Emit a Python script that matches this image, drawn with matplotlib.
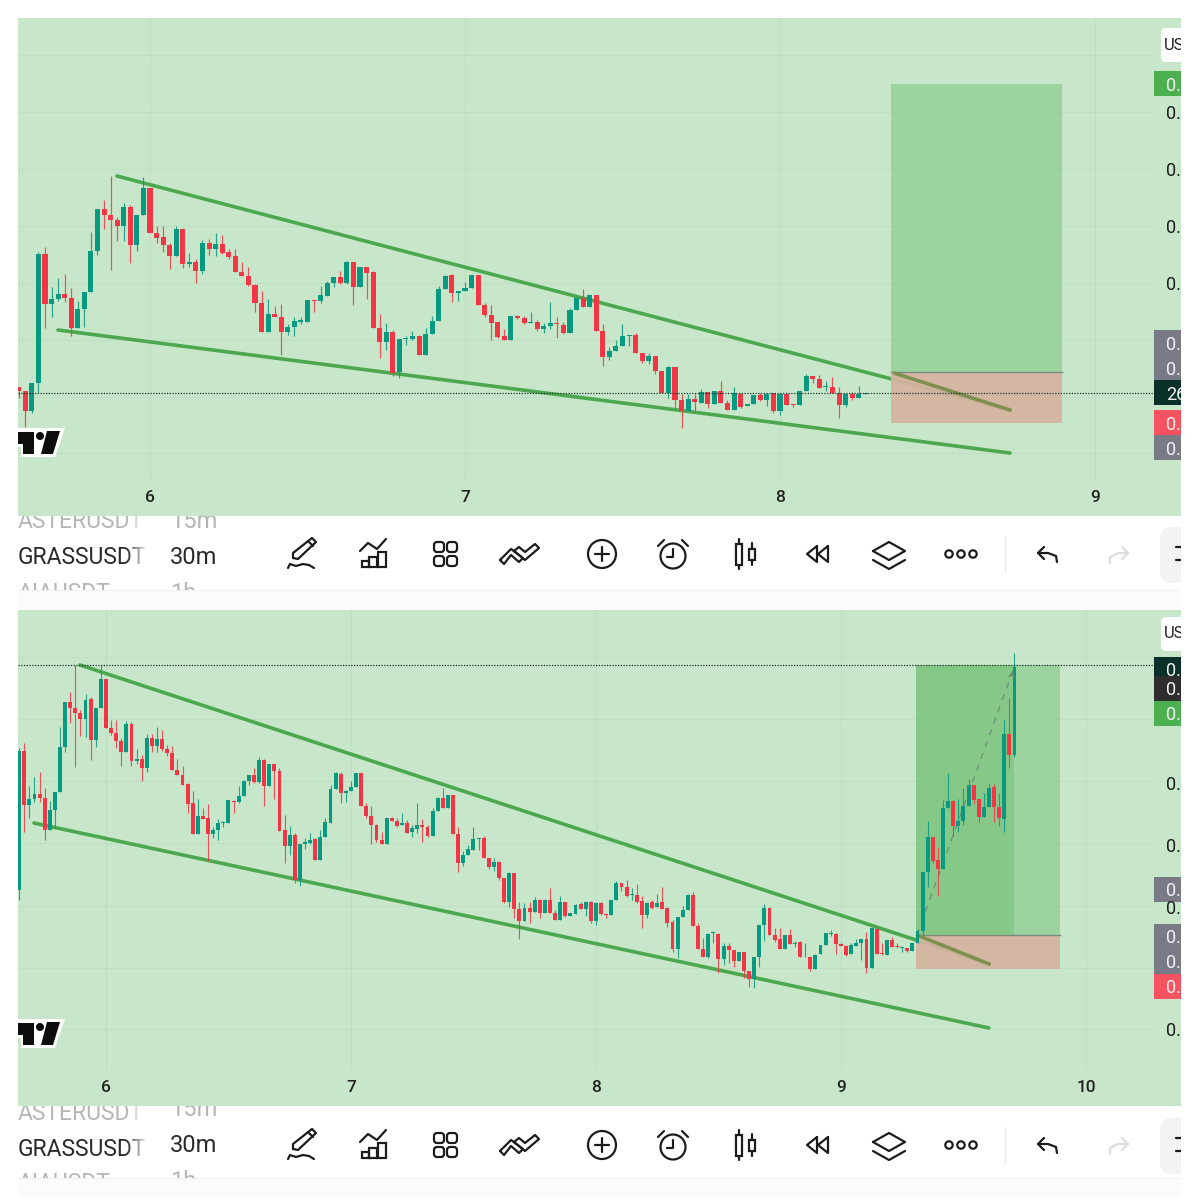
import numpy as np
import matplotlib
matplotlib.use("Agg")
import matplotlib.pyplot as plt
from matplotlib.patches import Rectangle, Circle, Polygon, FancyBboxPatch

plt.rcParams['font.family'] = ['Roboto', 'DejaVu Sans']

# ---------- upper chart: 30m candles (price in chart units) ----------
top_start_day = 6 - 20 / 48
top_dir = ("RRGGRGGRRG" "GGGRRRGRGG" "RRRRGRGRGR" "GRRRRRRRGR" "RGGGGRGGGR" "GRGRRRGRGG"
           "GRGGGG" "RGGG" "RRRRRGRRGR" "GGRRGGRGRR" "GGGGRRGRRG" "RRGRGRGRRG"
           "RGGRGRGRRG" "GRRGRRGRGG")
top_high = [388,376,400,793,806,688,715,726,685,646,
            672,852,920,948,1020,898,940,933,903,1018,
            985,871,871,818,870,864,788,772,828,830,
            850,842,802,800,761,746,696,675,651,630,
            635,575,598,596,648,648,690,706,718,736,
            765,761,748,748,736,606,578,558,530,540,
            556,542,563,601,690,723,
            726,674,701,723,
            723,640,633,581,562,601,603,599,613,589,
            578,643,598,583,625,658,680,662,662,575,
            506,528,575,543,550,490,489,480,434,449,
            448,366,366,366,380,373,374,404,348,386,
            368,337,362,368,368,370,368,368,336,374,
            426,420,424,404,416,386,370,373,391,369]
top_body_hi = [386,376,400,786,786,652,666,666,655,622,
               672,794,920,920,903,888,927,927,903,985,
               985,850,836,813,860,860,763,763,818,818,
               816,816,791,779,733,719,694,640,605,605,
               598,567,584,587,648,647,662,700,716,716,
               761,761,748,748,731,565,552,552,530,534,
               539,540,547,585,680,721,
               722,674,685,723,
               723,633,604,581,539,601,600,593,582,583,
               571,580,580,574,619,655,655,662,662,555,
               494,511,541,543,544,489,479,479,434,448,
               448,348,350,350,372,372,374,374,339,368,
               367,337,362,362,367,368,367,365,335,374,
               420,420,412,390,387,370,367,367,367,369]
top_body_lo = [376,316,316,400,635,635,652,655,565,565,
               622,672,794,904,888,871,871,814,814,903,
               850,834,812,780,780,756,756,736,736,801,
               801,790,778,733,719,693,638,553,553,598,
               553,553,567,583,583,644,644,661,700,698,
               698,687,687,730,565,523,523,428,433,530,
               531,484,484,547,585,680,
               670,670,674,685,
               633,604,580,538,528,528,593,578,579,560,
               560,571,575,550,550,619,628,628,555,477,
               477,495,511,541,490,465,465,434,369,369,
               349,314,314,341,340,337,337,339,319,319,
               328,329,336,348,349,315,315,334,332,332,
               374,410,384,387,370,332,332,353,353,367]
top_low = [353,268,308,368,563,598,646,643,541,565,
           568,672,782,860,738,826,825,758,795,903,
           850,818,793,741,780,745,748,700,726,782,
           780,785,771,733,719,690,613,553,553,596,
           483,542,541,576,583,611,638,659,688,696,
           695,633,687,652,565,473,498,420,413,513,
           528,484,484,547,585,680,
           643,646,674,685,
           633,598,528,535,528,528,591,576,579,556,
           548,560,535,546,550,619,626,628,555,451,
           467,495,511,511,488,458,455,427,369,354,
           323,263,314,311,340,323,337,339,317,319,
           325,329,336,346,330,310,303,332,326,332,
           374,400,384,374,368,295,326,349,353,367]

top_days = [6, 7, 8, 9]
top_grid = [1383, 1212, 1041, 870, 699, 528, 357, 189]
top_price_labels = [1212, 1041, 870, 699]
top_upper_line = ([5.895, 8.730], [1020, 318])
top_lower_line = ([5.708, 8.730], [558, 189])
top_position = dict(x0=8.352, x1=8.895, target=1296, entry=432, stop=279)
top_last_price = 369
top_tags = [(1296, "0.", "#4caf50"), (519, "0.", "#787b86"), (444, "0.", "#787b86"),
            (369, "26", "#0b3029"), (279, "0.", "#f7525f"), (204, "0.", "#787b86")]

# ---------- lower chart: same market, later ----------
bot_start_day = 6 - 17 / 48
bot_dir = ("GRGGRRGGGG" "RRRGRGGRRR" "RGRGRGRGRR" "RRRRRGRRGG" "GGRGGGRGRG" "RRRGRGGGRG"
           "GGGRGGGRRR" "RRGRRGRGGR" "RGGRG"
           "RRGGGGRRGR" "RGRRGRGRGR" "RGRGGRGRGR" "RGGRRGRRGR" "GRRRGGGRRR"
           "GGRGRRGRRG" "GGRRRGRGRG" "RGGGGRRRGG" "GRGRRGRRGR" "GG"
           "GGRRGGRGGGRRGGRRGRG")
bot_high = [1075,1088,960,988,1002,955,915,943,1138,1212,
            1243,1323,1188,1236,1228,1193,1323,1282,1158,1159,
            1103,1156,1153,1071,1052,1115,1115,1136,1128,1083,
            1081,1040,1021,970,944,920,893,905,838,862,
            855,917,917,960,978,993,1013,1046,1040,1026,
            1026,1013,873,840,818,787,803,818,803,828,
            865,963,1001,1002,947,976,998,998,908,901,
            845,823,865,868,863,878,858,843,910,862,
            843,893,928,953,932,
            932,838,765,783,838,803,810,745,743,735,
            683,702,700,613,610,611,626,620,620,653,
            588,630,611,578,606,613,614,616,613,612,
            578,619,676,670,678,653,665,630,612,618,
            636,658,596,558,568,601,635,641,548,505,
            518,526,518,490,488,468,463,463,406,446,
            544,606,596,533,533,513,530,495,496,488,
            450,455,483,518,528,518,488,483,488,500,
            502,523,535,533,490,498,508,488,481,475,
            490,528,
            703,856,808,776,918,998,918,920,955,981,963,920,938,965,965,938,1158,1223,1358]
bot_body_hi = [1065,1065,921,937,937,925,888,943,1076,1212,
               1212,1195,1179,1219,1221,1193,1282,1282,1135,1119,
               1096,1147,1147,1042,1042,1104,1103,1100,1100,1072,
               1059,1009,994,966,908,871,870,863,828,848,
               851,917,916,931,974,992,992,1039,1039,1026,
               1026,1006,827,812,812,787,793,798,800,807,
               851,952,998,996,944,956,998,998,901,869,
               844,797,865,865,856,848,850,833,843,843,
               837,886,925,925,932,
               932,816,753,770,801,803,803,745,733,733,
               683,700,699,590,593,593,618,618,619,619,
               580,611,611,578,603,606,612,612,609,609,
               577,619,670,669,658,635,632,615,610,611,
               610,611,593,552,566,588,633,633,541,471,
               517,523,517,480,480,468,463,463,404,446,
               544,593,593,514,501,512,512,490,492,448,
               447,454,483,518,520,517,486,481,483,490,
               501,502,533,532,458,497,497,479,476,474,
               490,526,
               703,806,806,738,893,916,916,856,900,962,962,920,898,955,956,898,1117,1117,1318]
bot_body_lo = [648,904,904,921,925,827,827,888,943,1076,
               1194,1179,1160,1160,1097,1097,1193,1135,1119,1096,
               1061,1061,1035,1035,1013,1013,1080,1080,1072,1058,
               1008,994,964,907,815,815,862,815,815,828,
               848,848,912,911,931,974,972,972,959,959,
               1006,826,779,779,678,678,787,788,737,737,
               807,850,951,940,940,945,956,901,869,843,
               797,786,786,856,840,842,820,821,832,838,
               809,809,886,895,895,
               816,730,730,752,769,801,744,716,717,683,
               613,613,590,555,555,581,581,578,578,580,
               558,558,570,570,577,592,592,555,555,576,
               573,573,619,656,630,632,613,573,573,594,
               596,590,549,470,471,566,588,540,471,448,
               448,520,441,441,468,435,435,404,382,382,
               447,544,514,498,470,470,487,486,446,446,
               410,410,455,483,517,487,481,453,455,481,
               490,413,415,457,455,453,476,476,474,465,
               465,488,
               526,702,734,711,711,893,841,841,855,901,918,866,867,898,898,863,862,1053,1053]
bot_low = [618,823,863,913,911,798,827,834,943,1063,
           1148,1016,1110,1108,1038,1076,1193,1135,1112,1075,
           1020,1061,1021,1026,975,1003,1061,1061,1066,1051,
           1008,994,964,880,815,815,860,736,804,798,
           836,848,878,908,929,963,968,968,901,959,
           921,826,730,753,670,660,771,786,737,737,
           807,850,951,910,913,945,956,901,863,786,
           793,786,786,854,838,842,818,808,820,791,
           806,809,886,895,895,
           816,702,721,752,769,768,744,710,706,679,
           610,598,563,500,555,548,581,563,578,580,
           558,558,568,570,577,590,570,548,543,574,
           565,573,619,646,628,618,610,533,565,590,
           596,590,536,462,443,566,588,540,471,448,
           443,488,400,423,430,416,435,383,356,353,
           418,495,514,491,470,470,485,478,446,446,
           406,410,455,483,510,456,479,451,455,481,
           438,398,415,457,453,453,476,475,463,463,
           465,488,
           513,656,728,630,711,893,810,823,842,901,906,853,867,898,851,840,823,1013,1046]

bot_days = [6, 7, 8, 9, 10]
bot_grid = [1347, 1161, 975, 789, 600, 414, 231]
bot_price_labels = [969, 783, 597, 231]
bot_upper_line = ([5.894, 9.604], [1323, 426])
bot_lower_line = ([5.706, 9.604], [849, 234])
bot_position = dict(x0=9.306, x1=9.894, reached=9.706, target=1323, entry=513, stop=411)
bot_path = ([9.31, 9.706], [513, 1314])
bot_last_price = 1323
bot_tags = [(1311, "0.", "#0b3029"), (1254, "0.", "#2e2e2e"), (1179, "0.", "#4caf50"),
            (651, "0.", "#787b86"), (510, "0.", "#787b86"), (435, "0.", "#787b86"),
            (360, "0.", "#f7525f")]

toolbar_symbols = ["ASTERUSDT", "GRASSUSDT", "AIAUSDT"]
toolbar_intervals = ["15m", "30m", "1h"]

# ---------- palette ----------
BG = "#c8e6c9"
GRID = "#c0dec1"
UP = "#089981"
DOWN = "#f23645"
LINE = "#4ba84f"
INK = "#1c1c1c"

W = H = 1200
fig = plt.figure(figsize=(12, 12), dpi=100, facecolor="white")


def frac_axes(x0, y0, x1, y1, **kw):
    return fig.add_axes([x0 / W, 1 - y1 / H, (x1 - x0) / W, (y1 - y0) / H], **kw)


ax_back = frac_axes(0, 0, W, H, zorder=0)
ax_back.set_xlim(0, W)
ax_back.set_ylim(H, 0)
ax_back.axis("off")

ax_top = frac_axes(18, 18, 1181, 516, zorder=1)
ax_bot = frac_axes(18, 610, 1181, 1106, zorder=1)

ax_over = frac_axes(0, 0, W, H, zorder=2)
ax_over.set_xlim(0, W)
ax_over.set_ylim(H, 0)
ax_over.axis("off")
ax_over.patch.set_alpha(0)


def candles(ax, start, dirs, high, low, hi, lo, width, wick):
    n = len(high)
    x = start + np.arange(n) / 48
    high, low, hi, lo = map(np.array, (high, low, hi, lo))
    cols = [UP if d == "G" else DOWN for d in dirs]
    ax.vlines(x, low, high, colors=cols, lw=wick, zorder=6, alpha=0.85)
    ax.bar(x, np.maximum(hi - lo, 2), bottom=lo, width=width, color=cols, linewidth=0, zorder=7)


def chart(ax, xlim, ylim, days, grid, labels, tags, upper, lower, last):
    ax.set_facecolor(BG)
    ax.set_xlim(*xlim)
    ax.set_ylim(*ylim)
    for s in ax.spines.values():
        s.set_visible(False)
    ax.set_yticks([])
    ax.set_xticks(days)
    ax.set_xticklabels([str(d) for d in days], fontweight=500)
    ax.tick_params(axis="x", length=0, pad=-18.5, labelsize=12.5, labelcolor="#222222")
    ax.vlines(days, 0.075, 1, colors=GRID, lw=0.8, transform=ax.get_xaxis_transform(), zorder=1)
    ax.hlines(grid, 0, 0.976, colors=GRID, lw=0.8, transform=ax.get_yaxis_transform(), zorder=1)
    ax.plot(*upper, color=LINE, lw=2.6, zorder=2, solid_capstyle="round")
    ax.plot(*lower, color=LINE, lw=2.6, zorder=2, solid_capstyle="round")
    ax.hlines(last, 0, 0.976, colors="#17352c", lw=0.9, linestyles=(0, (1, 1.2)),
              transform=ax.get_yaxis_transform(), zorder=8)
    tr = ax.get_yaxis_transform()
    for p in labels:
        ax.text(0.9875, p - 7, "0.", transform=tr, fontsize=13, color="#1d1d1d", va="center",
                ha="left", clip_on=True, zorder=10)
    for p, s, c in tags:
        ax.add_patch(Rectangle((0.9768, p - 37.5), 0.0232, 75, transform=tr, color=c, lw=0, zorder=9))
        ax.text(0.9875, p - 7, s, transform=tr, fontsize=13, color="#f2f2f2", va="center", ha="left",
                clip_on=True, zorder=10)


# upper chart
chart(ax_top, (5.581, 9.273), (0, 1494), top_days, top_grid, top_price_labels, top_tags,
      top_upper_line, top_lower_line, top_last_price)
p = top_position
ax_top.add_patch(Rectangle((p["x0"], p["entry"]), p["x1"] - p["x0"], p["target"] - p["entry"],
                           color="#8bcc8e", alpha=0.72, lw=0, zorder=3))
ax_top.add_patch(Rectangle((p["x0"], p["stop"]), p["x1"] - p["x0"], p["entry"] - p["stop"],
                           color="#d6b3a0", alpha=0.92, lw=0, zorder=3))
ax_top.plot([p["x0"], p["x1"]], [p["entry"]] * 2, color="#7d8a80", lw=1, zorder=4)
ax_top.plot([8.365, 8.730], [428, 318], color="#7f8f4f", lw=2.6, zorder=4)
candles(ax_top, top_start_day, top_dir, top_high, top_low, top_body_hi, top_body_lo, 0.0160, 0.85)

# lower chart
chart(ax_bot, (5.641, 10.388), (0, 1488), bot_days, bot_grid, bot_price_labels, bot_tags,
      bot_upper_line, bot_lower_line, bot_last_price)
p = bot_position
ax_bot.add_patch(Rectangle((p["x0"], p["entry"]), p["x1"] - p["x0"], p["target"] - p["entry"],
                           color="#8bcc8e", alpha=0.72, lw=0, zorder=3))
ax_bot.add_patch(Rectangle((p["x0"], p["entry"]), p["reached"] - p["x0"], p["target"] - p["entry"],
                           color="#66b96a", alpha=0.42, lw=0, zorder=3))
ax_bot.add_patch(Rectangle((p["x0"], p["stop"]), p["x1"] - p["x0"], p["entry"] - p["stop"],
                           color="#d6b3a0", alpha=0.92, lw=0, zorder=3))
ax_bot.plot([p["x0"], p["x1"]], [p["entry"]] * 2, color="#7d8a80", lw=1, zorder=4)
ax_bot.plot([9.32, 9.604], [510, 426], color="#7f8f4f", lw=2.6, zorder=4)
ax_bot.plot(*bot_path, color="#6d8f78", lw=0.9, ls=(0, (5, 5)), zorder=5)
ax_bot.annotate("", xy=(bot_path[0][1], bot_path[1][1]),
                xytext=(bot_path[0][1] - 0.01, bot_path[1][1] - 30),
                arrowprops=dict(arrowstyle="->", color="#5f8a72", lw=0.9), zorder=9)
candles(ax_bot, bot_start_day, bot_dir, bot_high, bot_low, bot_body_hi, bot_body_lo, 0.0160, 0.8)


# ---------- interface furniture around the charts ----------
def pl(xs, ys, dy, color=INK, lw=1.6):
    ax_back.plot(xs, np.array(ys) + dy, color=color, lw=lw, solid_capstyle="round",
                 solid_joinstyle="round", zorder=5)


def toolbar(dy, strip_top, strip_bot, sym_y, iv_y):
    ax_back.add_patch(Rectangle((0, strip_bot), W, 20, color="#fbfbfb", lw=0, zorder=6))
    ax_back.plot([0, W], [strip_bot, strip_bot], color="#f0f0f0", lw=0.8, zorder=6)
    for name, iv, off, col in zip(toolbar_symbols, toolbar_intervals, (-36, 0, 35),
                                  ("#b5b5b5", "#2a2a2a", "#b5b5b5")):
        ax_back.text(18, sym_y + off, name, fontsize=16.5, color=col, va="center", ha="left", zorder=3)
        ax_back.text(170, iv_y + off, iv, fontsize=17, color=col, va="center", ha="left", zorder=3)
    g = np.ones((1, 30, 4))
    g[0, :, 3] = np.linspace(0, 1, 30)
    ax_back.imshow(g, extent=(126, 148, strip_bot, strip_top), aspect="auto", zorder=4)
    ax_back.add_patch(Rectangle((148, strip_top), 20, strip_bot - strip_top, color="white", lw=0, zorder=4))
    ax_back.set_xlim(0, W)
    ax_back.set_ylim(H, 0)

    d = dy - 554
    # pencil
    pl([293, 293, 312, 316, 298, 293], [558, 553, 538, 542, 559, 558], d)
    pl([308, 313], [541, 546], d)
    pl([288, 290, 296, 303, 309, 314], [568, 564, 566, 564, 565, 568], d)
    # chart with bars
    pl([360, 368, 377, 386], [551, 543, 549, 539], d)
    for x0, x1, top in ((362, 369, 561), (369, 377, 557), (378, 386, 552)):
        ax_back.add_patch(Rectangle((x0, top + d), x1 - x0, 567 - top, fill=False, ec=INK, lw=1.6, zorder=5))
    # grid of four
    for cx, cy in ((439, 547), (452, 547), (439, 561), (452, 561)):
        ax_back.add_patch(FancyBboxPatch((cx - 3.5, cy - 3.5 + d), 7, 7, boxstyle="round,pad=1.5,rounding_size=3",
                                         fill=False, ec=INK, lw=1.6, zorder=5))
    # chevrons
    pl([500, 511, 523, 519, 511, 504, 500], [560, 549, 558, 562, 555, 564, 560], d)
    pl([514, 519, 525, 535, 539, 525, 514], [551, 547, 552, 544, 548, 560, 551], d)
    # plus in a circle
    ax_back.add_patch(Circle((602, dy), 14, fill=False, ec=INK, lw=1.6, zorder=5))
    pl([595, 609], [554, 554], d)
    pl([602, 602], [547, 561], d)
    # alarm clock
    ax_back.add_patch(Circle((673, dy + 2), 12.5, fill=False, ec=INK, lw=1.6, zorder=5))
    pl([673, 673, 667], [549, 557, 557], d)
    pl([658, 664], [546, 540], d)
    pl([682, 688], [540, 546], d)
    # candle icon
    ax_back.add_patch(Rectangle((736, 544 + d), 6, 21, fill=False, ec=INK, lw=1.6, zorder=5))
    ax_back.add_patch(Rectangle((749, 549 + d), 6, 11, fill=False, ec=INK, lw=1.6, zorder=5))
    pl([739, 739], [539, 544], d)
    pl([739, 739], [565, 569], d)
    pl([752, 752], [543, 549], d)
    pl([752, 752], [560, 565], d)
    # rewind
    pl([817, 807, 817, 817], [546, 554, 562, 546], d)
    pl([828, 818, 828, 828], [546, 554, 562, 546], d)
    # layers
    pl([873, 889, 905, 889, 873], [551, 542, 551, 560, 551], d)
    pl([873, 889, 905], [560, 569, 560], d)
    # dots
    for cx in (949, 961, 973):
        ax_back.add_patch(Circle((cx, dy), 3.7, fill=False, ec=INK, lw=1.6, zorder=5))
    ax_back.plot([1005, 1005], [536 + d, 572 + d], color="#e8e8e8", lw=0.9, zorder=5)
    # undo, redo
    pl([1044, 1038, 1044], [547, 553, 559], d)
    pl([1038, 1048, 1056, 1057], [553, 553, 556, 562], d)
    pl([1122, 1128, 1122], [547, 553, 559], d, color="#dcdcdc")
    pl([1128, 1118, 1110, 1110], [553, 553, 557, 563], d, color="#dcdcdc")
    # side button
    ax_back.add_patch(FancyBboxPatch((1160, 527 + d), 40, 56, boxstyle="round,pad=0,rounding_size=12",
                                     fc="#f3f3f3", ec="none", zorder=4))
    pl([1176, 1181], [547, 547], d, lw=1.6)
    pl([1176, 1181], [560, 560], d, lw=1.6)


toolbar(554, 516, 590, 558, 558)
toolbar(1145, 1106, 1178, 1149, 1146)
ax_back.add_patch(Rectangle((1181, 516), 19, 700, color="white", lw=0, zorder=7))
ax_back.add_patch(Rectangle((0, 516), 18, 700, color="white", lw=0, zorder=7))


def logo_at(dy):
    ax_over.add_patch(Polygon([(18, 428 + dy), (65, 428 + dy), (55, 457 + dy), (21, 457 + dy), (21, 447 + dy), (18, 447 + dy)],
                              fc="white", ec="none", zorder=3))
    mark = dict(fc="#0d0d0d", ec="none", zorder=4)
    ax_over.add_patch(Polygon([(18, 432 + dy), (34, 432 + dy), (34, 454 + dy), (23, 454 + dy), (23, 444 + dy), (18, 444 + dy)], **mark))
    ax_over.add_patch(Polygon([(41, 454 + dy), (53, 454 + dy), (60, 431 + dy), (47, 431 + dy)], **mark))
    ax_over.add_patch(Circle((40, 436 + dy), 4, **mark))


logo_at(0)
logo_at(591)

# quote-currency chip on the price scale
for top in (28, 617):
    ax_over.add_patch(FancyBboxPatch((1161, top), 40, 34, boxstyle="round,pad=0,rounding_size=5",
                                     fc="white", ec="none", zorder=4))
    ax_over.text(1164, top + 17, "US", fontsize=12, color="#222222", va="center", ha="left", zorder=5)
ax_over.add_patch(Rectangle((1181, 0), 19, 1200, color="white", lw=0, zorder=6))

fig.savefig("out.png", dpi=100, facecolor="white")
